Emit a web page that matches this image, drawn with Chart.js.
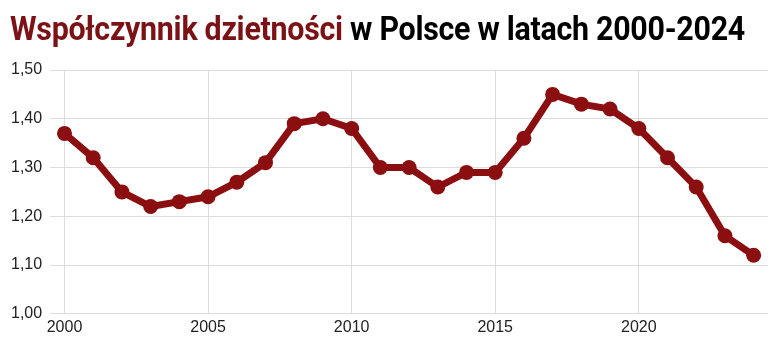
<!DOCTYPE html>
<html>
<head>
<meta charset="utf-8">
<script src="https://cdn.jsdelivr.net/npm/chart.js@4"></script>
<style>
html,body{margin:0;padding:0;background:#fff;}
#wrap{position:relative;width:778px;height:341px;overflow:hidden;}
#title{position:absolute;left:10px;top:6px;margin:0;font-family:Roboto,"Noto Sans",sans-serif;font-weight:700;font-size:34px;line-height:44px;white-space:nowrap;transform-origin:0 0;color:#000;letter-spacing:-0.3px;}
#title .red{color:#7a1216;}
#c{position:absolute;left:0;top:0;}
</style>
</head>
<body>
<div id="wrap">
<canvas id="c" width="778" height="341"></canvas>
<h1 id="title"><span class="red">Współczynnik dzietności</span> w Polsce w latach 2000-2024</h1>
</div>
<script>
const years = [2000,2001,2002,2003,2004,2005,2006,2007,2008,2009,2010,2011,2012,2013,2014,2015,2016,2017,2018,2019,2020,2021,2022,2023,2024];
const fertility = [1.37,1.32,1.25,1.22,1.23,1.24,1.27,1.31,1.39,1.40,1.38,1.30,1.30,1.26,1.29,1.29,1.36,1.45,1.43,1.42,1.38,1.32,1.26,1.16,1.12];
const xTicks = [2000,2005,2010,2015,2020];
const yTicks = [1.0,1.1,1.2,1.3,1.4,1.5];

// fit title width
const t = document.getElementById('title');
const targetW = 735;
const w = t.scrollWidth;
t.style.transform = 'scaleX(' + (targetW / w) + ')';

const lineColor = '#8b0f10';
new Chart(document.getElementById('c'), {
  type: 'line',
  data: {
    datasets: [{
      data: years.map((y, i) => ({x: y, y: fertility[i]})),
      borderColor: lineColor,
      backgroundColor: lineColor,
      borderWidth: 7,
      pointRadius: 7.5,
      pointHoverRadius: 7.5,
      pointBackgroundColor: lineColor,
      pointBorderColor: lineColor,
      pointBorderWidth: 0,
      tension: 0,
      fill: false
    }]
  },
  options: {
    responsive: false,
    animation: false,
    devicePixelRatio: 1,
    layout: {padding: {top: 70, right: 10, left: 3, bottom: 0}},
    plugins: {legend: {display: false}, tooltip: {enabled: false}, title: {display: false}},
    scales: {
      x: {
        type: 'linear',
        min: 1999.5,
        max: 2024.5,
        afterBuildTicks: (s) => { s.ticks = xTicks.map(v => ({value: v})); },
        ticks: {
          color: '#222',
          font: {family: 'Liberation Sans, Arial, sans-serif', size: 16},
          padding: 4,
          maxRotation: 0,
          callback: (v) => String(v)
        },
        grid: {color: '#dcdcdc', lineWidth: 1, drawTicks: false},
        border: {display: false}
      },
      y: {
        min: 1.0,
        max: 1.5,
        afterBuildTicks: (s) => { s.ticks = yTicks.map(v => ({value: v})); },
        ticks: {
          color: '#222',
          font: {family: 'Liberation Sans, Arial, sans-serif', size: 16},
          padding: 8,
          callback: (v) => v.toFixed(2).replace('.', ',')
        },
        grid: {color: '#dcdcdc', lineWidth: 1, drawTicks: false},
        border: {display: false}
      }
    }
  }
});
</script>
</body>
</html>
